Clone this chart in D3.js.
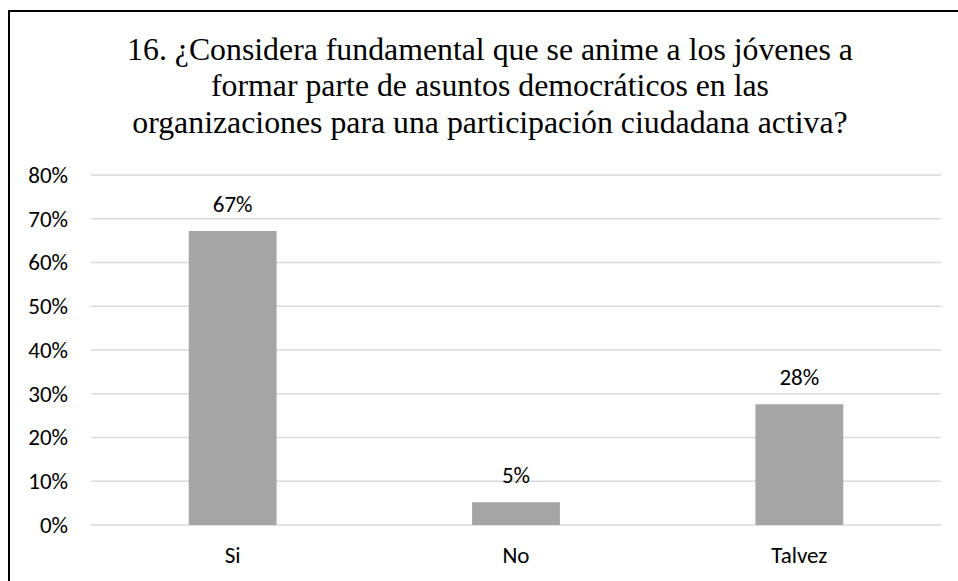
<!DOCTYPE html>
<html>
<head>
<meta charset="utf-8">
<script src="https://cdn.jsdelivr.net/npm/d3@7"></script>
<style>
  body { margin: 0; background: #fff; }
</style>
</head>
<body>
<div id="chart"></div>
<script>
// chart data
var categories = ['Si', 'No', 'Talvez'];
var values = [0.672, 0.052, 0.276];
var tickValues = [0, 0.1, 0.2, 0.3, 0.4, 0.5, 0.6, 0.7, 0.8];
var titleLines = [
  '16. ¿Considera fundamental que se anime a los jóvenes a',
  'formar parte de asuntos democráticos en las',
  'organizaciones para una participación ciudadana activa?'
];

var width = 958, height = 581;
var svg = d3.select('#chart').append('svg')
  .attr('width', width)
  .attr('height', height);

// outer frame
svg.append('rect')
  .attr('x', 9).attr('y', 11)
  .attr('width', 960).attr('height', 600)
  .attr('fill', '#fff')
  .attr('stroke', '#000')
  .attr('stroke-width', 2);

// title
svg.append('g').selectAll('text')
  .data(titleLines)
  .enter().append('text')
  .attr('x', 490)
  .attr('y', function(d, i) { return 59.5 + i * 36.5; })
  .attr('text-anchor', 'middle')
  .style('font-family', '"Liberation Serif"')
  .style('font-size', '31.8px')
  .style('fill', '#000')
  .text(function(d) { return d; });

var plotLeft = 91, plotRight = 941, plotTop = 175, plotBottom = 525;

var x = d3.scaleBand()
  .domain(categories)
  .range([plotLeft, plotRight])
  .paddingInner(0.69)
  .paddingOuter(0.345);

var y = d3.scaleLinear()
  .domain([0, 0.8])
  .range([plotBottom, plotTop]);

var labelFont = 'Carlito';
var labelSize = '23px';

// gridlines
svg.append('g').selectAll('line')
  .data(tickValues)
  .enter().append('line')
  .attr('x1', plotLeft).attr('x2', plotRight)
  .attr('y1', function(d) { return y(d); })
  .attr('y2', function(d) { return y(d); })
  .attr('stroke', '#d9d9d9')
  .attr('stroke-width', 1.4);

// y axis
var yAxis = d3.axisLeft(y)
  .tickValues(tickValues)
  .tickFormat(d3.format('.0%'))
  .tickSize(0)
  .tickPadding(0);
var yg = svg.append('g')
  .attr('transform', 'translate(68,0)')
  .call(yAxis);
yg.select('.domain').remove();
yg.selectAll('text')
  .style('font-family', labelFont)
  .style('font-size', labelSize)
  .style('fill', '#000');

// bars
svg.append('g').selectAll('rect')
  .data(values)
  .enter().append('rect')
  .attr('x', function(d, i) { return x(categories[i]); })
  .attr('y', function(d) { return y(d); })
  .attr('width', x.bandwidth())
  .attr('height', function(d) { return plotBottom - y(d); })
  .attr('fill', '#a5a5a5');

// value labels
svg.append('g').selectAll('text')
  .data(values)
  .enter().append('text')
  .attr('x', function(d, i) { return x(categories[i]) + x.bandwidth() / 2; })
  .attr('y', function(d) { return y(d) - 19; })
  .attr('text-anchor', 'middle')
  .style('font-family', labelFont)
  .style('font-size', labelSize)
  .style('fill', '#000')
  .text(function(d) { return d3.format('.0%')(d); });

// x axis
var xAxis = d3.axisBottom(x).tickSize(0).tickPadding(0);
var xg = svg.append('g')
  .attr('transform', 'translate(0,' + plotBottom + ')')
  .call(xAxis);
xg.select('.domain').remove();
xg.selectAll('text')
  .attr('dy', 0)
  .attr('y', 38)
  .style('font-family', labelFont)
  .style('font-size', labelSize)
  .style('fill', '#000');
</script>
</body>
</html>
